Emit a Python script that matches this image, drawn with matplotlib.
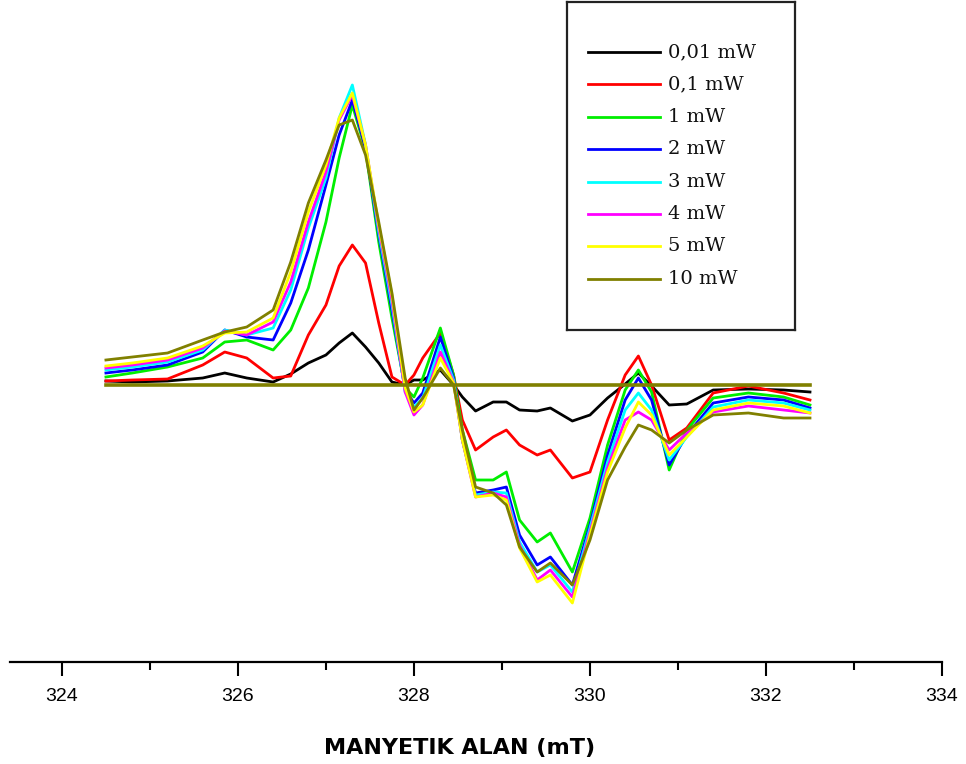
import matplotlib
matplotlib.use("Agg")
import matplotlib.pyplot as plt

# magnetic field (mT) and EPR signal (arb. units) for each microwave power
field = [324.5, 324.8, 325.2, 325.6, 325.85, 326.1, 326.4, 326.6, 326.8, 327.0,
         327.15, 327.3, 327.45, 327.6, 327.75, 327.9, 328.0, 328.1, 328.3, 328.45,
         328.55, 328.7, 328.9, 329.05, 329.2, 329.4, 329.55, 329.8, 330.0, 330.2,
         330.4, 330.55, 330.7, 330.9, 331.1, 331.4, 331.8, 332.2, 332.5]

p_001 = [4, 3, 4, 7, 12, 7, 3, 11, 22, 30, 42, 52, 38, 22, 3, 0, 5, 5, 15, 0,
         -12, -26, -17, -17, -25, -26, -23, -36, -30, -13, 1, 12, -1, -20, -19, -5, -4, -5, -7]
p_01 = [4, 5, 6, 20, 33, 27, 7, 9, 50, 80, 119, 140, 122, 62, 8, 0, 10, 27, 52, 10,
        -35, -65, -52, -45, -60, -70, -65, -93, -87, -35, 10, 29, 0, -55, -43, -8, -1, -8, -15]
p_1 = [8, 12, 18, 27, 43, 45, 35, 55, 97, 163, 227, 280, 235, 143, 67, -3, -12, 7, 57, 10,
       -45, -95, -95, -87, -135, -157, -148, -187, -133, -60, -5, 15, -7, -85, -45, -13, -8, -12, -20]
p_2 = [12, 15, 20, 33, 55, 48, 45, 82, 135, 200, 250, 285, 237, 150, 75, -5, -18, -8, 48, 7,
       -55, -108, -105, -102, -150, -180, -172, -200, -140, -70, -15, 7, -15, -80, -50, -18, -12, -15, -23]
p_3 = [15, 18, 23, 35, 55, 50, 57, 95, 157, 207, 267, 300, 240, 153, 80, -7, -22, -13, 40, 5,
       -55, -110, -107, -108, -157, -187, -180, -207, -143, -77, -25, -8, -25, -75, -52, -22, -15, -18, -25]
p_4 = [17, 20, 25, 37, 54, 50, 63, 103, 163, 213, 265, 290, 240, 157, 85, -7, -30, -20, 33, 3,
       -55, -112, -108, -112, -160, -195, -185, -212, -147, -83, -35, -27, -35, -65, -48, -27, -21, -25, -28]
p_5 = [19, 22, 27, 39, 52, 53, 67, 113, 173, 220, 267, 292, 240, 160, 90, -3, -27, -20, 27, 2,
       -55, -112, -110, -115, -163, -197, -190, -218, -150, -87, -43, -17, -30, -70, -52, -25, -18, -21, -28]
p_10 = [25, 28, 32, 45, 53, 58, 75, 123, 182, 225, 260, 265, 230, 163, 92, 7, -25, -13, 17, 0,
        -45, -102, -108, -120, -162, -187, -178, -200, -155, -95, -62, -40, -45, -58, -45, -30, -28, -33, -33]

labels = ["0,01 mW", "0,1 mW", "1 mW", "2 mW", "3 mW", "4 mW", "5 mW", "10 mW"]
series = [p_001, p_01, p_1, p_2, p_3, p_4, p_5, p_10]
colors = ["#000000", "#ff0000", "#00ee00", "#0000ff", "#00ffff", "#ff00ff", "#ffff00", "#808000"]

W, H = 966, 764
fig = plt.figure(figsize=(W / 100, H / 100), dpi=100)
ax = fig.add_axes([10 / W, (H - 662) / H, 932 / W, 662 / H])

for y, c in zip(series, colors):
    ax.plot(field, y, color=c, lw=2.0)
# flat zero trace drawn over everything
ax.plot([field[0], field[-1]], [0, 0], color="#808000", lw=2.6)

ax.set_xlim(323.41, 334.0)
ax.set_ylim(-277, 385)
for s in ["top", "left", "right"]:
    ax.spines[s].set_visible(False)
ax.spines["bottom"].set_linewidth(1.6)
ax.set_yticks([])
ax.set_xticks([324, 326, 328, 330, 332, 334])
ax.set_xticks([325, 327, 329, 331, 333], minor=True)
ax.tick_params(axis="x", which="major", length=10, width=1.5, pad=9, labelsize=14)
ax.tick_params(axis="x", which="minor", length=6, width=1.5)
for t in ax.get_xticklabels():
    t.set_family(["Liberation Sans Narrow", "Liberation Sans", "DejaVu Sans"])

fig.text(460 / W, 1 - 748 / H, "MANYETIK ALAN (mT)", ha="center", va="center",
         fontsize=16, fontweight="bold", family="DejaVu Sans")

# legend box
lx0, ly0, lx1, ly1 = 567, 2, 795, 330
lax = fig.add_axes([lx0 / W, 1 - ly1 / H, (lx1 - lx0) / W, (ly1 - ly0) / H])
lax.set_xlim(lx0, lx1)
lax.set_ylim(ly1, ly0)
lax.set_xticks([])
lax.set_yticks([])
for s in lax.spines.values():
    s.set_linewidth(1.6)
    s.set_color("#222222")
for i, (lab, c) in enumerate(zip(labels, colors)):
    yy = 52 + i * 32.4
    lax.plot([588, 660], [yy, yy], color=c, lw=2.0)
    lax.text(668, yy, lab, va="center", ha="left", fontsize=14,
             family=["DejaVu Serif"], color="#111111")

fig.savefig("out.png", dpi=100)
